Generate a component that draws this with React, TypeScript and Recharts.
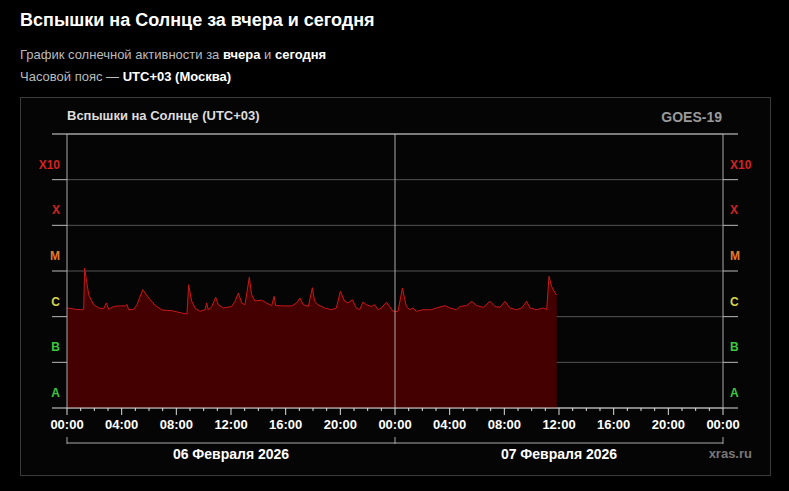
import React from "react";
import {
  ComposedChart,
  Area,
  XAxis,
  YAxis,
  CartesianGrid,
  ReferenceLine,
} from "recharts";

// часы от начала 06.02 (00:00 UTC+03)
const hours = [
  0, 0.12, 0.6, 1.0, 1.22, 1.29, 1.59, 1.95, 2.32, 2.68, 2.88, 3.05, 3.29, 3.54, 3.9,
  4.27, 4.39, 4.51, 4.88, 5.12, 5.54, 5.98, 6.46, 6.95, 7.68, 8.41, 8.78, 8.9,
  9.12, 9.37, 9.73, 10.1, 10.22, 10.34, 10.59, 10.88, 11.07, 11.44, 12.05, 12.29,
  12.54, 12.78, 13.02, 13.34, 13.51, 13.76, 14.24, 14.61, 14.98, 15.15, 15.27,
  15.95, 16.44, 16.8, 17.05, 17.29, 17.66, 17.95, 18.12, 18.37, 18.85, 19.34,
  19.71, 20.0, 20.32, 20.56, 20.88, 21.17, 21.41, 21.66, 21.9, 22.27, 22.51,
  22.76, 23.0, 23.37, 23.61, 23.85, 24.22, 24.54, 24.83, 25.07, 25.32, 25.56,
  26.05, 26.66, 27.02, 27.66, 28.02, 28.51, 28.76, 29.24, 29.61, 29.98, 30.46,
  30.95, 31.32, 31.68, 32.05, 32.41, 32.9, 33.27, 33.63, 33.88, 34.37, 34.85,
  35.1, 35.27, 35.46, 35.71, 35.83,
];

// поток рентгеновского излучения, Вт/м²
const flux = [
  1.5e-6, 1.55e-6, 1.45e-6, 1.42e-6, 1.45e-6, 1.16e-5, 3.0e-6, 1.83e-6, 1.55e-6, 1.5e-6,
  2.0e-6, 1.45e-6, 1.6e-6, 1.7e-6, 1.72e-6, 1.72e-6, 1.85e-6, 1.42e-6, 1.45e-6,
  1.83e-6, 3.9e-6, 2.56e-6, 1.75e-6, 1.4e-6, 1.35e-6, 1.2e-6, 1.14e-6, 5.0e-6,
  2.2e-6, 1.55e-6, 1.31e-6, 1.42e-6, 2.0e-6, 1.4e-6, 1.67e-6, 2.65e-6, 1.83e-6,
  1.55e-6, 1.67e-6, 2.17e-6, 3.3e-6, 1.99e-6, 1.83e-6, 7.27e-6, 3.03e-6, 2.2e-6,
  2.3e-6, 1.99e-6, 1.75e-6, 2.79e-6, 1.75e-6, 1.72e-6, 1.72e-6, 1.99e-6, 2.56e-6,
  1.83e-6, 1.67e-6, 4.3e-6, 2.17e-6, 1.83e-6, 1.55e-6, 1.42e-6, 1.55e-6, 3.59e-6,
  2.17e-6, 1.99e-6, 2.35e-6, 1.55e-6, 1.42e-6, 2.09e-6, 1.83e-6, 1.67e-6, 1.83e-6,
  1.42e-6, 1.55e-6, 2.07e-6, 1.67e-6, 1.31e-6, 1.31e-6, 4.24e-6, 1.67e-6, 1.42e-6,
  1.55e-6, 1.31e-6, 1.42e-6, 1.42e-6, 1.55e-6, 1.74e-6, 1.55e-6, 1.42e-6, 1.67e-6,
  1.75e-6, 2.17e-6, 1.75e-6, 1.6e-6, 2.17e-6, 1.67e-6, 1.6e-6, 2.17e-6, 1.55e-6,
  1.42e-6, 1.55e-6, 2.17e-6, 1.55e-6, 1.42e-6, 1.55e-6, 1.42e-6, 7.65e-6, 4.6e-6,
  3.3e-6, 3.0e-6,
];

const classTicks = [1e-8, 1e-7, 1e-6, 1e-5, 1e-4, 1e-3, 1e-2];
const classLabels = ["A", "B", "C", "M", "X", "X10", ""];
const classColors = ["#3cc83c", "#3cc83c", "#d6d64a", "#e07c2c", "#d42222", "#d42222", ""];

const hourTicks = Array.from({ length: 49 }, (_, i) => i);
const dateTicks = [0, 12, 24, 36, 48];
const dateLabels: Record<number, string> = { 12: "06 Февраля 2026", 36: "07 Февраля 2026" };

const data = hours.map((h, i) => ({ h, flux: flux[i] }));

const FONT = "'Liberation Sans', Arial, sans-serif";

function ClassTick({ x, y, payload, side }: any) {
  const idx = classTicks.indexOf(payload.value);
  const edge = idx === 0 || idx === classTicks.length - 1;
  const dir = side === "left" ? -1 : 1;
  return (
    <g>
      <line x1={x} x2={x + dir * 15} y1={y} y2={y} stroke={edge ? "#ddd" : "#bbb"} />
      {classLabels[idx] && (
        <text
          x={x + dir * 7}
          y={y - 15}
          dy={4}
          textAnchor={side === "left" ? "end" : "start"}
          fill={classColors[idx]}
          fontSize={12}
          fontWeight="bold"
          fontFamily={FONT}
        >
          {classLabels[idx]}
        </text>
      )}
    </g>
  );
}

function HourTick({ x, y, payload }: any) {
  const h = payload.value;
  const major = h % 4 === 0;
  return (
    <g>
      <line x1={x} x2={x} y1={y} y2={y + (major ? 7 : 3)} stroke="#ddd" />
      {major && (
        <text x={x} y={y + 21} textAnchor="middle" fill="#fff" fontSize={13} fontWeight="bold" fontFamily={FONT}>
          {String(h % 24).padStart(2, "0") + ":00"}
        </text>
      )}
    </g>
  );
}

function DateTick({ x, y, payload }: any) {
  const v = payload.value;
  if (dateLabels[v]) {
    return (
      <text x={x} y={y + 16} textAnchor="middle" fill="#fff" fontSize={14} fontWeight="bold" fontFamily={FONT}>
        {dateLabels[v]}
      </text>
    );
  }
  return <line x1={x} x2={x} y1={y - 6} y2={y + 1} stroke="#aaa" />;
}

export default function App() {
  return (
    <div
      style={{
        position: "absolute",
        left: 0,
        top: 0,
        width: 789,
        height: 491,
        background: "#000",
        fontFamily: FONT,
        overflow: "hidden",
      }}
    >
      <div style={{ position: "absolute", left: 20, top: 10, fontSize: 18, fontWeight: "bold", color: "#fff" }}>
        Вспышки на Солнце за вчера и сегодня
      </div>
      <div style={{ position: "absolute", left: 20, top: 47, fontSize: 13, color: "#bbb" }}>
        График солнечной активности за <b style={{ color: "#fff" }}>вчера</b> и{" "}
        <b style={{ color: "#fff" }}>сегодня</b>
      </div>
      <div style={{ position: "absolute", left: 20, top: 69, fontSize: 13, color: "#bbb" }}>
        Часовой пояс — <b style={{ color: "#fff" }}>UTC+03 (Москва)</b>
      </div>
      <div
        style={{
          position: "absolute",
          left: 20,
          top: 97,
          width: 749,
          height: 377,
          border: "1px solid #3a3a3a",
          background: "#050505",
        }}
      />
      <div style={{ position: "absolute", left: 67, top: 108, fontSize: 13, fontWeight: "bold", color: "#ddd" }}>
        Вспышки на Солнце (UTC+03)
      </div>
      <div style={{ position: "absolute", right: 67, top: 109, fontSize: 14, fontWeight: "bold", color: "#9a9a9a" }}>
        GOES-19
      </div>
      <div style={{ position: "absolute", right: 37, top: 446, fontSize: 13, fontWeight: "bold", color: "#777" }}>
        xras.ru
      </div>
      <div style={{ position: "absolute", left: 0, top: 0 }}>
        <ComposedChart width={789} height={491} data={data} margin={{ top: 134, right: 0, bottom: 0, left: 0 }}>
          <CartesianGrid xAxisId="a" yAxisId="l" vertical={false} stroke="#555" />
          <XAxis
            xAxisId="a"
            dataKey="h"
            type="number"
            domain={[0, 48]}
            ticks={hourTicks}
            interval={0}
            height={35}
            tickSize={0}
            tickMargin={0}
            axisLine={{ stroke: "#ddd" }}
            tick={<HourTick />}
          />
          <XAxis
            xAxisId="z"
            dataKey="h"
            type="number"
            domain={[0, 48]}
            ticks={dateTicks}
            interval={0}
            height={48}
            tickSize={0}
            tickMargin={0}
            axisLine={{ stroke: "#aaa" }}
            tick={<DateTick />}
          />
          <YAxis
            yAxisId="l"
            orientation="left"
            width={67}
            scale="log"
            type="number"
            domain={[1e-8, 1e-2]}
            allowDataOverflow
            ticks={classTicks}
            interval={0}
            tickSize={0}
            tickMargin={0}
            axisLine={{ stroke: "#aaa" }}
            tick={<ClassTick side="left" />}
          />
          <YAxis
            yAxisId="r"
            orientation="right"
            width={66}
            scale="log"
            type="number"
            domain={[1e-8, 1e-2]}
            allowDataOverflow
            ticks={classTicks}
            interval={0}
            tickSize={0}
            tickMargin={0}
            axisLine={{ stroke: "#aaa" }}
            tick={<ClassTick side="right" />}
          />
          <Area
            xAxisId="a"
            yAxisId="l"
            dataKey="flux"
            type="linear"
            stroke="#c81818"
            strokeWidth={1}
            fill="#440000"
            fillOpacity={1}
            baseValue={1e-8}
            isAnimationActive={false}
          />
          <ReferenceLine xAxisId="a" yAxisId="l" x={24} stroke="#aaa" />
          <ReferenceLine xAxisId="a" yAxisId="l" y={1e-2} stroke="#ccc" />
        </ComposedChart>
      </div>
    </div>
  );
}
